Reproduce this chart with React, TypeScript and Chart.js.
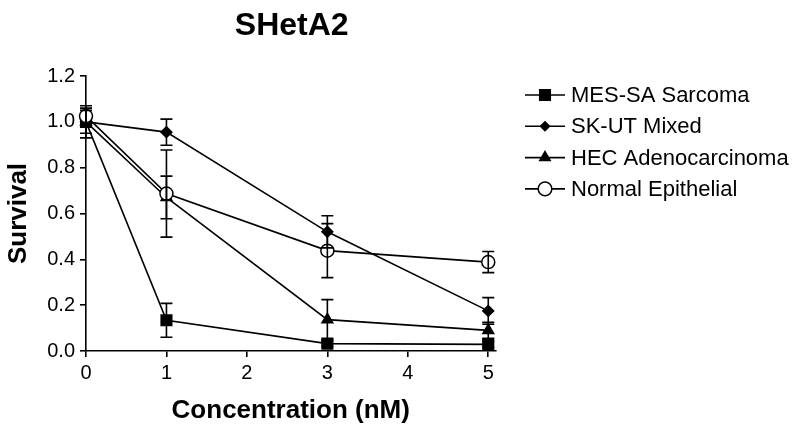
import React, { useEffect, useRef } from "react";
import { Chart, registerables } from "chart.js";
import { drawPoint } from "chart.js/helpers";

Chart.register(...registerables);

const titleText = "SHetA2";
const xTitle = "Concentration (nM)";
const yTitle = "Survival";

const concentrations = [0, 1, 3, 5];
const xTicks = [0, 1, 2, 3, 4, 5];
const yTicks = [0, 0.2, 0.4, 0.6, 0.8, 1.0, 1.2];

const seriesNames = ["MES-SA Sarcoma", "SK-UT Mixed", "HEC Adenocarcinoma", "Normal Epithelial"];
const mesSa = [1.0, 0.134, 0.032, 0.029];
const mesSaErr = [0.07, 0.074, 0.012, 0.012];
const skUt = [1.0, 0.955, 0.52, 0.175];
const skUtErr = [0.0, 0.057, 0.07, 0.058];
const hec = [1.0, 0.67, 0.137, 0.09];
const hecErr = [0.05, 0.093, 0.087, 0.035];
const normal = [1.025, 0.687, 0.438, 0.388];
const normalErr = [0.035, 0.19, 0.118, 0.046];

const FONT = "'Liberation Sans', Arial, Helvetica, sans-serif";

const styles = [
  { pointStyle: "rect", radius: 7.5, legendRadius: 7.5, fill: "#000" },
  { pointStyle: "rectRot", radius: 5.4, legendRadius: 4.5, fill: "#000" },
  { pointStyle: "triangle", radius: 6.2, legendRadius: 6, fill: "#000" },
  { pointStyle: "circle", radius: 6.5, legendRadius: 6.8, fill: "#fff" },
];

const seriesValues = [mesSa, skUt, hec, normal];
const seriesErrors = [mesSaErr, skUtErr, hecErr, normalErr];

const titlePlugin = {
  id: "customTitle",
  afterDraw(chart: any) {
    const { ctx, chartArea } = chart;
    ctx.save();
    ctx.font = `bold 32px ${FONT}`;
    ctx.fillStyle = "#000";
    ctx.textAlign = "center";
    ctx.textBaseline = "alphabetic";
    ctx.fillText(titleText, (chartArea.left + chartArea.right) / 2 + 1, 35);
    ctx.restore();
  },
};

const errorBarPlugin = {
  id: "errorBars",
  afterDatasetsDraw(chart: any) {
    const { ctx } = chart;
    const xs = chart.scales.x;
    const ys = chart.scales.y;
    ctx.save();
    ctx.strokeStyle = "#000";
    ctx.lineWidth = 1.6;
    chart.data.datasets.forEach((ds: any) => {
      const errs: number[] = ds.errors || [];
      ds.data.forEach((p: any, j: number) => {
        const e = errs[j];
        if (!e) return;
        const x = xs.getPixelForValue(p.x);
        const yt = ys.getPixelForValue(p.y + e);
        const yb = ys.getPixelForValue(p.y - e);
        const cap = 6;
        ctx.beginPath();
        ctx.moveTo(x, yt);
        ctx.lineTo(x, yb);
        ctx.moveTo(x - cap, yt);
        ctx.lineTo(x + cap, yt);
        ctx.moveTo(x - cap, yb);
        ctx.lineTo(x + cap, yb);
        ctx.stroke();
      });
    });
    ctx.restore();
  },
};

const legendPlugin = {
  id: "customLegend",
  afterDraw(chart: any) {
    const { ctx } = chart;
    const x0 = 525;
    const x1 = 565;
    const tx = 571;
    const y0 = 95;
    const dy = 31.3;
    ctx.save();
    seriesNames.forEach((name, i) => {
      const y = y0 + i * dy;
      ctx.strokeStyle = "#000";
      ctx.lineWidth = 1.6;
      ctx.beginPath();
      ctx.moveTo(x0, y);
      ctx.lineTo(x1, y);
      ctx.stroke();
      ctx.fillStyle = styles[i].fill;
      ctx.strokeStyle = "#000";
      ctx.lineWidth = 1.5;
      drawPoint(ctx, {
        pointStyle: styles[i].pointStyle as any,
        radius: styles[i].legendRadius,
        rotation: 0,
        borderWidth: 1.5,
      } as any, (x0 + x1) / 2, y);
      ctx.fillStyle = "#000";
      ctx.font = `22px ${FONT}`;
      ctx.textAlign = "left";
      ctx.textBaseline = "middle";
      ctx.fillText(name, tx, y + 1);
    });
    ctx.restore();
  },
};

export default function App() {
  const ref = useRef<HTMLCanvasElement | null>(null);

  useEffect(() => {
    if (!ref.current) return;
    Chart.defaults.font.family = FONT;
    Chart.defaults.color = "#000";

    const datasets = seriesNames.map((name, i) => ({
      label: name,
      data: concentrations.map((c, j) => ({ x: c, y: seriesValues[i][j] })),
      errors: seriesErrors[i],
      borderColor: "#000",
      borderWidth: 1.6,
      backgroundColor: styles[i].fill,
      pointStyle: styles[i].pointStyle,
      pointRadius: styles[i].radius,
      pointHoverRadius: styles[i].radius,
      pointBackgroundColor: styles[i].fill,
      pointBorderColor: "#000",
      pointBorderWidth: 1.5,
      tension: 0,
      fill: false,
      clip: false,
      order: i === 3 ? -1 : i,
    }));

    const chart = new Chart(ref.current, {
      type: "line",
      data: { datasets } as any,
      options: {
        responsive: false,
        animation: false,
        layout: { padding: { top: 76, right: 304.5, left: 0, bottom: 0 } },
        plugins: {
          legend: { display: false },
          tooltip: { enabled: false },
          title: { display: false },
        },
        scales: {
          x: {
            type: "linear",
            min: 0,
            max: 5.09,
            afterFit: (s: any) => { s.height = 82; },
            afterBuildTicks: (s: any) => { s.ticks = xTicks.map((v) => ({ value: v })); },
            ticks: {
              stepSize: 1,
              includeBounds: false,
              padding: 4,
              font: { size: 20 },
              color: "#000",
              callback: (v: any) => String(v),
            },
            grid: {
              drawOnChartArea: false,
              drawTicks: true,
              tickLength: 6,
              color: "#000",
              lineWidth: 1.6,
            },
            border: { display: true, color: "#000", width: 1.6 },
            title: {
              display: true,
              text: xTitle,
              font: { size: 26, weight: "bold" },
              color: "#000",
              padding: { top: 0, bottom: 7 },
            },
          },
          y: {
            type: "linear",
            min: 0,
            max: 1.2,
            afterFit: (s: any) => { s.width = 86; },
            afterBuildTicks: (s: any) => { s.ticks = yTicks.map((v) => ({ value: v })); },
            ticks: {
              stepSize: 0.2,
              padding: 5,
              font: { size: 20 },
              color: "#000",
              callback: (v: any) => Number(v).toFixed(1),
            },
            grid: {
              drawOnChartArea: false,
              drawTicks: true,
              tickLength: 6,
              color: "#000",
              lineWidth: 1.6,
            },
            border: { display: true, color: "#000", width: 1.6 },
            title: {
              display: true,
              text: yTitle,
              font: { size: 26, weight: "bold" },
              color: "#000",
              padding: { top: 3, bottom: 0 },
            },
          },
        },
      } as any,
      plugins: [titlePlugin, errorBarPlugin, legendPlugin],
    });

    return () => chart.destroy();
  }, []);

  return (
    <div style={{ position: "absolute", left: 0, top: 0, width: 800, height: 433, background: "#fff" }}>
      <canvas ref={ref} width={800} height={433} style={{ width: 800, height: 433, display: "block" }} />
    </div>
  );
}
